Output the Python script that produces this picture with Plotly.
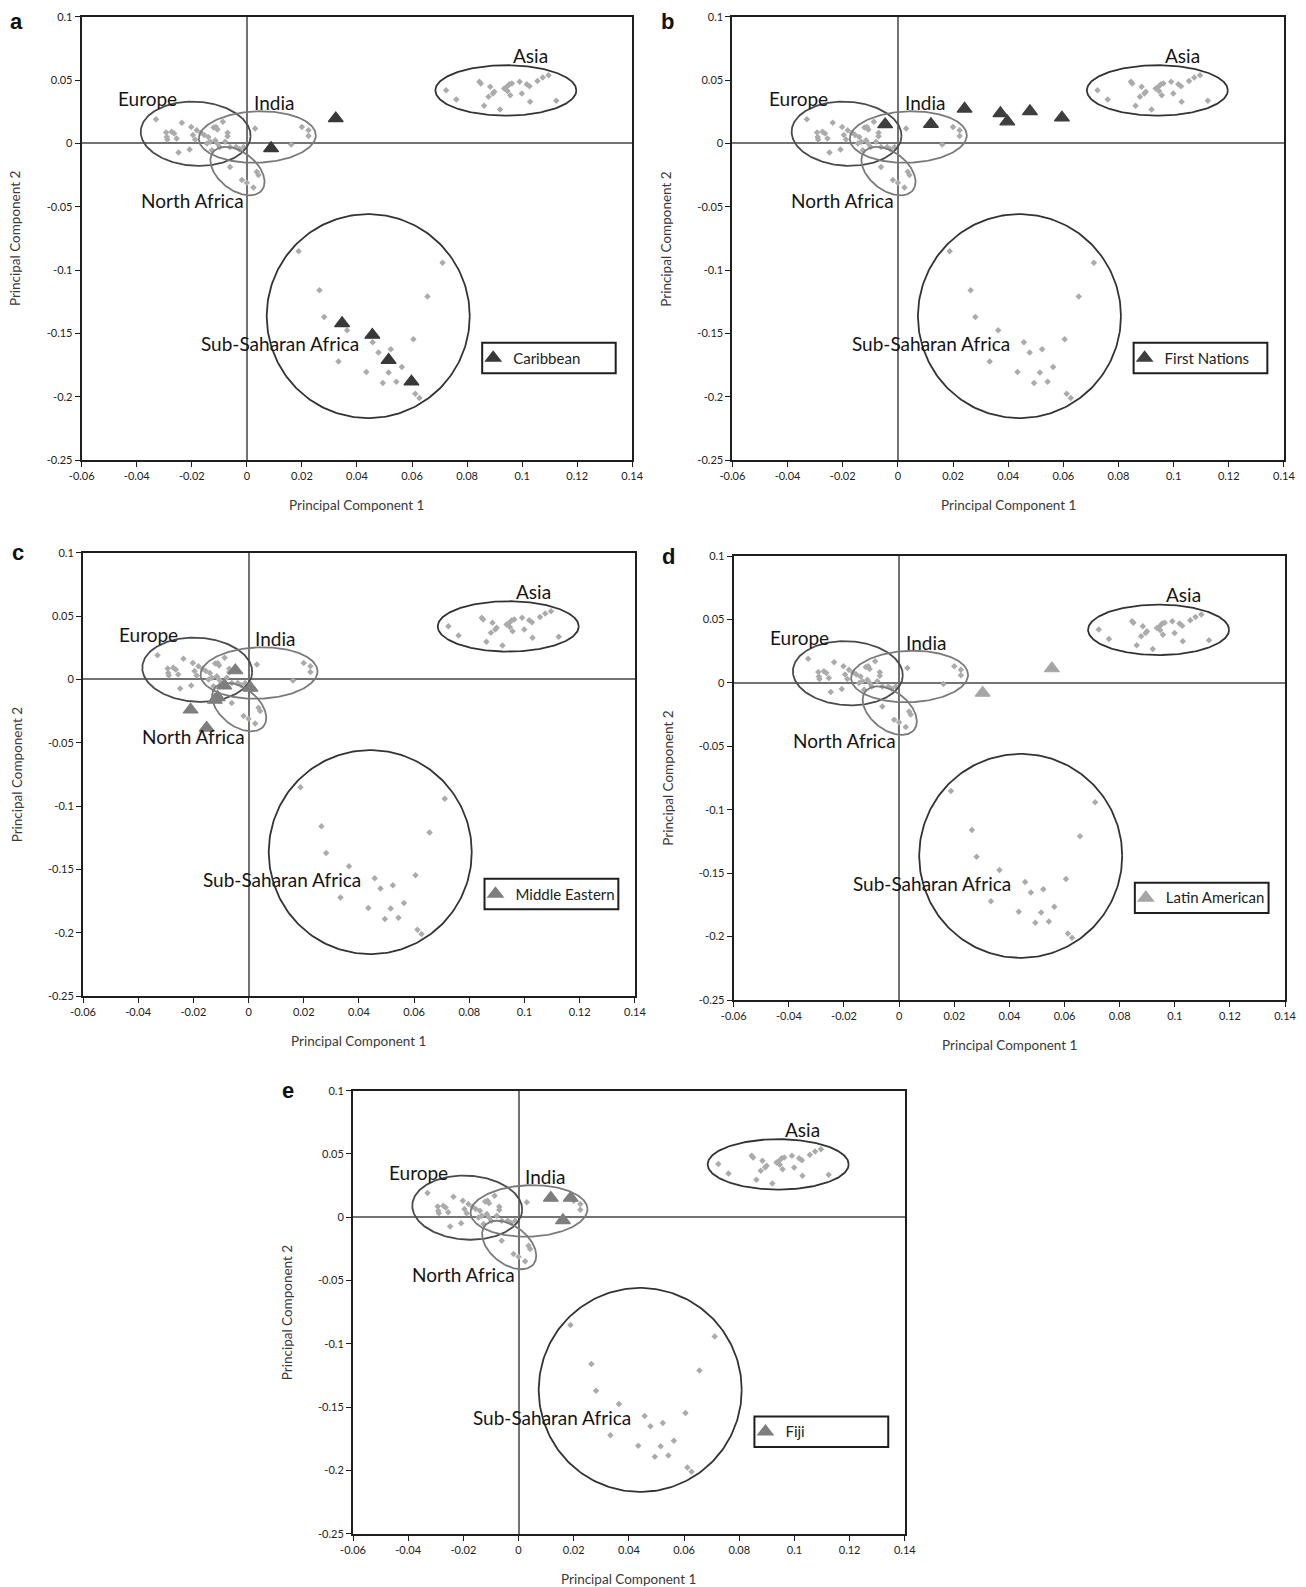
import numpy as np
import plotly.graph_objects as go

W, H = 1306, 1587
BODY_MARGIN = 8  # default page margin of the html body; positions below are page pixels

# ---------------- reference populations (grey points, identical in all panels) ----------------
EUROPE_PC1 = [-0.0330, -0.0236, -0.0202, -0.0293, -0.0273, -0.0264, -0.0291, -0.0289, -0.0255,
              -0.0248, -0.0208, -0.0196, -0.0182, -0.0188, -0.0167, -0.0155, -0.0140, -0.0133,
              -0.0145, -0.0127]
EUROPE_PC2 = [0.0191, 0.0162, 0.0130, 0.0086, 0.0091, 0.0078, 0.0051, 0.0031, 0.0039,
              -0.0072, -0.0048, 0.0065, 0.0104, 0.0031, 0.0083, 0.0065, 0.0051, 0.0012,
              -0.0001, -0.0054]
INDIA_PC1 = [-0.0121, -0.0112, -0.0107, -0.0087, -0.0070, -0.0070, -0.0115, -0.0107, -0.0099,
             -0.0079, -0.0061, -0.0039, -0.0027, -0.0012, 0.0030, 0.0161, 0.0200, 0.0224, 0.0224]
INDIA_PC2 = [0.0125, 0.0130, 0.0110, 0.0170, 0.0083, 0.0057, 0.0025, -0.0001, -0.0028,
             0.0012, -0.0028, -0.0028, -0.0046, -0.0028, 0.0118, -0.0009, 0.0130, 0.0104, 0.0059]
NAFRICA_PC1 = [-0.0061, -0.0018, 0.0000, 0.0036, 0.0042, 0.0024]
NAFRICA_PC2 = [-0.0186, -0.0290, -0.0311, -0.0225, -0.0250, -0.0348]
ASIA_PC1 = [0.0724, 0.0761, 0.0845, 0.0850, 0.0884, 0.0899, 0.0894, 0.0878, 0.0862, 0.0920,
            0.0935, 0.0945, 0.0954, 0.0963, 0.0947, 0.0957, 0.0991, 0.0999, 0.1017, 0.1027,
            0.1029, 0.1056, 0.1075, 0.1096, 0.1124]
ASIA_PC2 = [0.0420, 0.0346, 0.0486, 0.0473, 0.0446, 0.0407, 0.0394, 0.0367, 0.0296, 0.0267,
            0.0433, 0.0446, 0.0467, 0.0473, 0.0414, 0.0380, 0.0486, 0.0394, 0.0467, 0.0451,
            0.0328, 0.0493, 0.0520, 0.0538, 0.0336]
SSAFRICA_PC1 = [0.0188, 0.0264, 0.0281, 0.0364, 0.0457, 0.0333, 0.0434, 0.0478, 0.0523,
                0.0515, 0.0494, 0.0543, 0.0563, 0.0605, 0.0656, 0.0711, 0.0612, 0.0627]
SSAFRICA_PC2 = [-0.0852, -0.1160, -0.1370, -0.1475, -0.1570, -0.1722, -0.1805, -0.1652, -0.1626,
                -0.1810, -0.1892, -0.1882, -0.1765, -0.1547, -0.1210, -0.0942, -0.1976, -0.2010]

# ---------------- study groups (triangles) ----------------
CARIBBEAN_PC1 = [0.0088, 0.0323, 0.0346, 0.0456, 0.0515, 0.0598]
CARIBBEAN_PC2 = [-0.0039, 0.0197, -0.1421, -0.1513, -0.1711, -0.1882]
FIRST_NATIONS_PC1 = [-0.0046, 0.0120, 0.0242, 0.0372, 0.0397, 0.0479, 0.0595]
FIRST_NATIONS_PC2 = [0.0150, 0.0152, 0.0273, 0.0237, 0.0172, 0.0253, 0.0203]
MIDDLE_EASTERN_PC1 = [-0.0048, -0.0088, 0.0007, -0.0122, -0.0112, -0.0210, -0.0152]
MIDDLE_EASTERN_PC2 = [0.0070, -0.0050, -0.0068, -0.0163, -0.0142, -0.0240, -0.0383]
LATIN_AMERICAN_PC1 = [0.0303, 0.0554]
LATIN_AMERICAN_PC2 = [-0.0079, 0.0113]
FIJI_PC1 = [0.0117, 0.0189, 0.0161]
FIJI_PC2 = [0.0153, 0.0153, -0.0024]

PANEL_LETTERS = ['a', 'b', 'c', 'd', 'e']
GROUP_NAMES = ['Caribbean', 'First Nations', 'Middle Eastern', 'Latin American', 'Fiji']
GROUP_X = [CARIBBEAN_PC1, FIRST_NATIONS_PC1, MIDDLE_EASTERN_PC1, LATIN_AMERICAN_PC1, FIJI_PC1]
GROUP_Y = [CARIBBEAN_PC2, FIRST_NATIONS_PC2, MIDDLE_EASTERN_PC2, LATIN_AMERICAN_PC2, FIJI_PC2]
GROUP_COLORS = ['#383838', '#3e3e3e', '#7e7e7e', '#a6a6a6', '#7e7e7e']

X_TICKS = [-0.06, -0.04, -0.02, 0, 0.02, 0.04, 0.06, 0.08, 0.1, 0.12, 0.14]
X_TICK_LABELS = ['-0.06', '-0.04', '-0.02', '0', '0.02', '0.04', '0.06', '0.08', '0.1', '0.12', '0.14']
Y_TICKS = [-0.25, -0.2, -0.15, -0.1, -0.05, 0, 0.05, 0.1]
Y_TICK_LABELS = ['-0.25', '-0.2', '-0.15', '-0.1', '-0.05', '0', '0.05', '0.1']
X_RANGE = [-0.06, 0.14]
Y_RANGE = [-0.25, 0.1]

# region labels (data coords of text centres)
REGION_LABELS = ['Asia', 'Europe', 'India', 'North Africa', 'Sub-Saharan Africa']
REGION_LABEL_X = [0.1031, -0.0362, 0.0097, -0.0199, 0.0120]
REGION_LABEL_Y = [0.0697, 0.0355, 0.0321, -0.0453, -0.1584]

# ellipses: centre (data), semi axes (px), angle (deg), colour
ELLIPSES = [
    dict(cx=-0.0186, cy=0.0076, a=55, b=32, ang=-3, color='#4a4a4a'),   # Europe
    dict(cx=0.0038, cy=0.0050, a=58.5, b=25.7, ang=2, color='#7a7a7a'), # India
    dict(cx=-0.0034, cy=-0.0219, a=31, b=19, ang=-38, color='#7a7a7a'), # North Africa
    dict(cx=0.0941, cy=0.0418, a=70.5, b=25.2, ang=0, color='#333333'), # Asia
    dict(cx=0.0441, cy=-0.1364, a=101.5, b=102, ang=0, color='#333333'),# Sub-Saharan Africa
]

LEGEND_BOX = dict(x0=0.0855, x1=0.134, y0=-0.1815, y1=-0.1575)

# panel plot areas in page pixels: left, top, right, bottom
PANEL_PX = [
    (81.7, 16.7, 632.2, 460.0),
    (732.4, 16.7, 1283.9, 460.0),
    (83.0, 552.7, 634.9, 996.0),
    (733.7, 556.0, 1285.1, 1000.0),
    (353.0, 1090.7, 904.8, 1533.7),
]

FONT = 'Lato, Carlito, Calibri, sans-serif'
LETTER_FONT = dict(family='Liberation Sans, Arial, sans-serif', size=22, color='#111')


def px_x(p):
    return (p - BODY_MARGIN) / W


def px_y(p):
    return 1 - (p - BODY_MARGIN) / H


def ellipse_xy(e, sx, sy, n=240):
    t = np.linspace(0, 2 * np.pi, n)
    th = np.deg2rad(e['ang'])
    dx = e['a'] * np.cos(t) * np.cos(th) - e['b'] * np.sin(t) * np.sin(th)
    dy = e['a'] * np.cos(t) * np.sin(th) + e['b'] * np.sin(t) * np.cos(th)
    return e['cx'] + dx / sx, e['cy'] + dy / sy


fig = go.Figure()

ref_x = EUROPE_PC1 + INDIA_PC1 + NAFRICA_PC1 + ASIA_PC1 + SSAFRICA_PC1
ref_y = EUROPE_PC2 + INDIA_PC2 + NAFRICA_PC2 + ASIA_PC2 + SSAFRICA_PC2

annotations = []
shapes = []

for i, letter in enumerate(PANEL_LETTERS):
    L, T, R, B = PANEL_PX[i]
    sfx = '' if i == 0 else str(i + 1)
    xa, ya = 'x' + sfx, 'y' + sfx
    sx = (R - L) / (X_RANGE[1] - X_RANGE[0])
    sy = (B - T) / (Y_RANGE[1] - Y_RANGE[0])

    axis_common = dict(showgrid=False, zeroline=True, zerolinecolor='#737373', zerolinewidth=1.6,
                       showline=True, linecolor='#1e1e1e', linewidth=2, mirror=True,
                       ticks='outside', ticklen=5, tickwidth=1.4, tickcolor='#1e1e1e',
                       automargin=False, fixedrange=True,
                       tickfont=dict(family=FONT, size=11, color='#222'))
    fig.layout['xaxis' + sfx] = dict(domain=[px_x(L), px_x(R)], range=X_RANGE, anchor=ya,
                                     tickvals=X_TICKS, ticktext=X_TICK_LABELS, **axis_common)
    fig.layout['yaxis' + sfx] = dict(domain=[px_y(B), px_y(T)], range=Y_RANGE, anchor=xa,
                                     tickvals=Y_TICKS, ticktext=Y_TICK_LABELS, **axis_common)

    # grey reference points
    fig.add_trace(go.Scatter(x=ref_x, y=ref_y, mode='markers', xaxis=xa, yaxis=ya,
                             marker=dict(symbol='diamond', size=5, color='#ababab'),
                             showlegend=False, hoverinfo='skip'))
    # ellipses
    for e in ELLIPSES:
        ex, ey = ellipse_xy(e, sx, sy)
        fig.add_trace(go.Scatter(x=ex, y=ey, mode='lines', xaxis=xa, yaxis=ya,
                                 line=dict(color=e['color'], width=1.8),
                                 showlegend=False, hoverinfo='skip'))
    # study group triangles
    leg = 'legend' + sfx
    fig.add_trace(go.Scatter(x=GROUP_X[i], y=GROUP_Y[i], mode='markers', xaxis=xa, yaxis=ya,
                             name=GROUP_NAMES[i], legend=leg,
                             marker=dict(symbol='triangle-up', size=13, color=GROUP_COLORS[i],
                                         line=dict(color=GROUP_COLORS[i], width=1.2))))
    # legend box
    shapes.append(dict(type='rect', xref=xa, yref=ya, line=dict(color='#1e1e1e', width=2),
                       fillcolor='rgba(0,0,0,0)', **LEGEND_BOX))
    box_left_px = L + (LEGEND_BOX['x0'] - X_RANGE[0]) * sx
    box_mid_px = T + (Y_RANGE[1] - (LEGEND_BOX['y0'] + LEGEND_BOX['y1']) / 2) * sy
    fig.layout[leg] = dict(x=px_x(box_left_px - 9), y=px_y(box_mid_px),
                           xanchor='left', yanchor='middle', bgcolor='rgba(0,0,0,0)',
                           borderwidth=0, font=dict(family=FONT, size=15, color='#222'),
                           itemsizing='constant')

    # region labels
    for txt, lx, ly in zip(REGION_LABELS, REGION_LABEL_X, REGION_LABEL_Y):
        annotations.append(dict(text=txt, x=lx, y=ly, xref=xa, yref=ya, showarrow=False,
                                font=dict(family=FONT, size=19, color='#151515'),
                                xanchor='center', yanchor='middle'))
    # axis titles
    annotations.append(dict(text='Principal Component 1', x=px_x((L + R) / 2), y=px_y(B + 45),
                            xref='paper', yref='paper', showarrow=False,
                            font=dict(family=FONT, size=13.5, color='#3a3a3a'),
                            xanchor='center', yanchor='middle'))
    annotations.append(dict(text='Principal Component 2', x=px_x(L - 66), y=px_y((T + B) / 2),
                            xref='paper', yref='paper', showarrow=False, textangle=-90,
                            font=dict(family=FONT, size=13.5, color='#3a3a3a'),
                            xanchor='center', yanchor='middle'))
    # panel letter (kept fully inside the figure when the panel touches the top edge)
    if T - 16 < BODY_MARGIN:
        annotations.append(dict(text='<b>%s</b>' % letter, x=px_x(L - 65), y=1.0,
                                xref='paper', yref='paper', showarrow=False, borderpad=0,
                                font=LETTER_FONT, xanchor='center', yanchor='top'))
    else:
        annotations.append(dict(text='<b>%s</b>' % letter, x=px_x(L - 65), y=px_y(T),
                                xref='paper', yref='paper', showarrow=False,
                                font=LETTER_FONT, xanchor='center', yanchor='middle'))

fig.update_layout(template='none', width=W, height=H, autosize=False,
                  margin=dict(l=0, r=0, t=0, b=0, pad=0),
                  paper_bgcolor='white', plot_bgcolor='white', showlegend=True,
                  annotations=annotations, shapes=shapes)

fig.write_html('out.html')
